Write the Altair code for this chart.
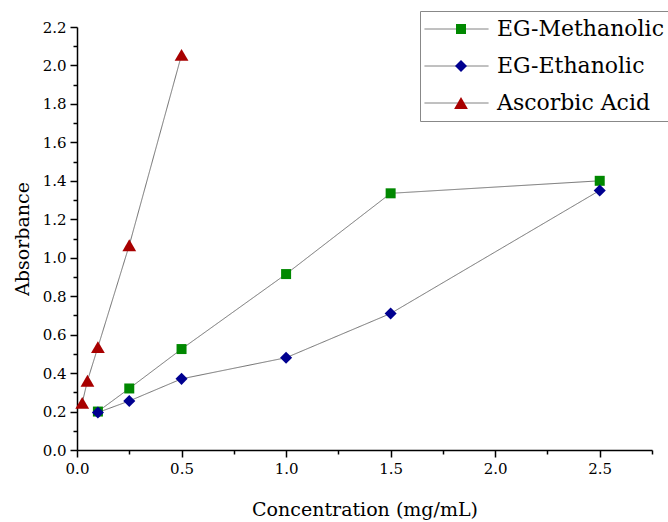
import altair as alt
import pandas as pd

series_names = ["EG-Methanolic", "EG-Ethanolic", "Ascorbic Acid"]
series_colors = ["#008800", "#000090", "#A80000"]
series_shapes = ["square", "diamond", "triangle-up"]
series_sizes = [100, 190, 130]

conc_eg = [0.1, 0.25, 0.5, 1.0, 1.5, 2.5]
abs_methanolic = [0.20, 0.32, 0.525, 0.915, 1.335, 1.40]
abs_ethanolic = [0.195, 0.255, 0.37, 0.48, 0.71, 1.35]
conc_ascorbic = [0.025, 0.05, 0.1, 0.25, 0.5]
abs_ascorbic = [0.245, 0.36, 0.535, 1.065, 2.055]

x_tick_values = [i * 0.25 for i in range(12)]
y_tick_values = [round(i * 0.1, 1) for i in range(23)]

rows = []
for idx, (name, xs, ys) in enumerate([
    (series_names[0], conc_eg, abs_methanolic),
    (series_names[1], conc_eg, abs_ethanolic),
    (series_names[2], conc_ascorbic, abs_ascorbic),
]):
    for x, y in zip(xs, ys):
        rows.append({"series": name, "line_key": f"k{idx}", "conc": x, "absorb": y})
df = pd.DataFrame(rows)
df["order"] = range(len(df))

line_keys = ["k0", "k1", "k2"]
names_js = "{" + ",".join(f"'{k}':'{n}'" for k, n in zip(line_keys, series_names)) + "}"

FONT = "DejaVu Serif"

x_scale = alt.Scale(domain=[0, 2.75], nice=False, zero=False)
y_scale = alt.Scale(domain=[0, 2.2], nice=False)

x_major = "abs(datum.value*2-round(datum.value*2))<0.001"
y_major = "abs(datum.value*5-round(datum.value*5))<0.001"

x_axis = alt.Axis(
    title="Concentration (mg/mL)",
    values=x_tick_values,
    labelExpr=f"{x_major} ? format(datum.value, '.1f') : ''",
    tickSize={"condition": {"test": x_major, "value": 7}, "value": 4},
    labelFlush=False,
    labelPadding=4,
    titlePadding=24,
)
y_axis = alt.Axis(
    title="Absorbance",
    values=y_tick_values,
    labelExpr=f"{y_major} ? format(datum.value, '.1f') : ''",
    tickSize={"condition": {"test": y_major, "value": 7}, "value": 4},
    labelFlush=False,
    labelPadding=4,
    titlePadding=10,
)

base = alt.Chart(df)

lines = base.mark_line(color="#707070", strokeWidth=1).encode(
    x=alt.X("conc:Q", scale=x_scale, axis=x_axis),
    y=alt.Y("absorb:Q", scale=y_scale, axis=y_axis),
    order="order:Q",
    strokeDash=alt.StrokeDash(
        "line_key:N",
        scale=alt.Scale(domain=line_keys, range=[[1, 0], [1, 0], [1, 0]]),
        legend=alt.Legend(
            orient="none",
            legendX=343,
            legendY=-16,
            direction="vertical",
            title=None,
            symbolType="stroke",
            symbolSize=4096,
            symbolStrokeColor="#707070",
            symbolStrokeWidth=1,
            labelExpr=f"{names_js}[datum.value]",
            labelFont=FONT,
            labelFontSize=22,
            labelColor="black",
            labelOffset=8,
            labelLimit=400,
            clipHeight=28,
            rowPadding=9,
            padding=4,
            strokeColor="#888888",
            fillColor="white",
            zindex=1,
        ),
    ),
)

marker_legend = alt.Legend(
    orient="none",
    legendX=369,
    legendY=-16,
    direction="vertical",
    title=None,
    symbolSize=120,
    symbolStrokeWidth=0,
    labelExpr="''",
    labelFont=FONT,
    labelFontSize=22,
    labelOffset=8,
    clipHeight=28,
    rowPadding=9,
    padding=4,
    zindex=2,
)

points = base.mark_point(filled=True, opacity=1).encode(
    x=alt.X("conc:Q", scale=x_scale, axis=x_axis),
    y=alt.Y("absorb:Q", scale=y_scale, axis=y_axis),
    color=alt.Color("series:N", scale=alt.Scale(domain=series_names, range=series_colors), legend=marker_legend),
    shape=alt.Shape("series:N", scale=alt.Scale(domain=series_names, range=series_shapes), legend=marker_legend),
    size=alt.Size("series:N", scale=alt.Scale(domain=series_names, range=series_sizes), legend=None),
    order="order:Q",
)

chart = (
    alt.layer(lines, points)
    .properties(
        width=575,
        height=423,
        autosize=alt.AutoSizeParams(type="none"),
        padding={"left": 77, "top": 27, "right": 16, "bottom": 72},
        background="white",
    )
    .configure_view(stroke=None)
    .configure_axis(
        grid=False,
        domainColor="black",
        domainWidth=1.5,
        tickColor="black",
        tickWidth=1.5,
        labelColor="black",
        labelFont=FONT,
        labelFontSize=15,
        titleFont=FONT,
        titleFontSize=19,
        titleFontWeight="normal",
        titleColor="black",
    )
)

chart.save("out.html", embed_options={"renderer": "svg", "actions": False})
